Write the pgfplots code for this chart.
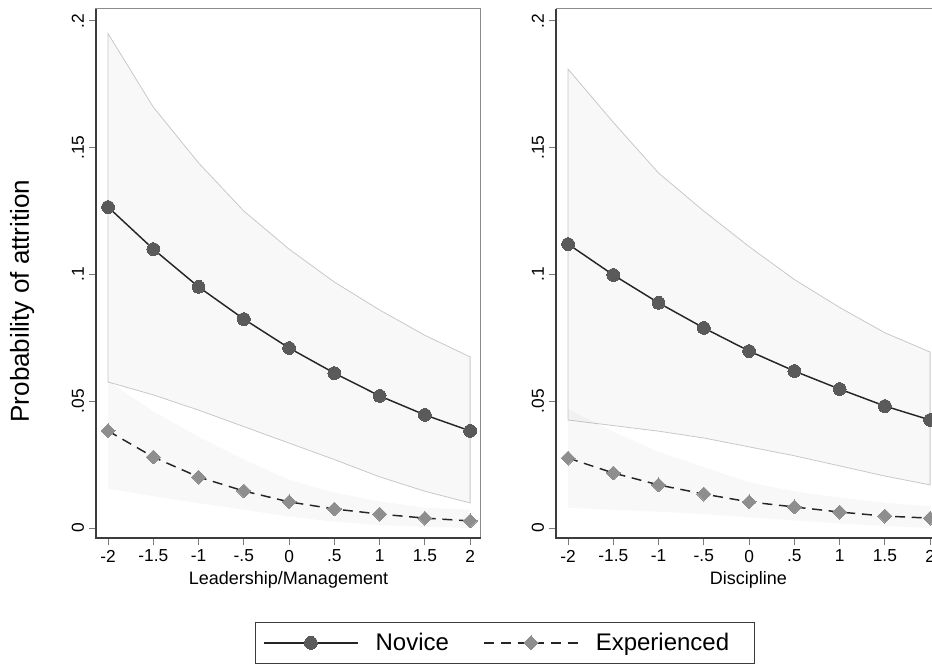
\documentclass[border=0pt]{standalone}
\usepackage{fontspec}
\setmainfont{Liberation Sans}
\usepackage{pgfplots}
\pgfplotsset{compat=1.18}

\definecolor{novmark}{HTML}{5A5A5A}
\definecolor{expmark}{HTML}{8E8E8E}
\definecolor{bandedge}{HTML}{C8C8C8}
\definecolor{framedark}{HTML}{3C3C3C}
\definecolor{framelight}{HTML}{8C8C8C}
\definecolor{tickgray}{HTML}{7A7A7A}
\definecolor{linedark}{HTML}{262626}

\pgfplotsset{
  panel/.style={
    scale only axis, width=288.75pt, height=396.75pt,
    xmin=-2.133, xmax=2.12, ymin=-0.00394, ymax=0.2047,
    axis line style={draw=framelight, line width=0.75pt},
    xtick={-2,-1.5,-1,-0.5,0,0.5,1,1.5,2},
    xticklabels={-2,-1.5,-1,-.5,0,.5,1,1.5,2},
    ytick={0,0.05,0.1,0.15,0.2}, yticklabels={0,.05,.1,.15,.2},
    xtick pos=bottom, ytick pos=left, tick align=outside,
    major tick length=5.5pt,
    every tick/.style={draw=tickgray, line width=0.75pt},
    ticklabel style={font=\fontsize{13}{15}\selectfont, text=black},
    yticklabel style={rotate=90, anchor=south},
    xticklabel style={anchor=north},
    xlabel style={font=\fontsize{13.5}{15}\selectfont, at={(axis description cs:0.5,-0.0794)}, anchor=center},
    ylabel style={font=\fontsize{19.5}{22}\selectfont},
    clip=false,
  },
  novband/.style={draw=bandedge, line width=0.6pt, fill=black, fill opacity=0.028, forget plot},
  expband/.style={draw=none, fill=black, fill opacity=0.028, forget plot},
  novline/.style={linedark, line width=1.1pt, mark=*, mark size=4.8pt, mark options={solid, fill=novmark, draw=novmark, line width=0pt}},
  expline/.style={linedark, line width=1.1pt, dash pattern=on 7.5pt off 5pt, mark=square*, mark size=3.7pt, mark options={solid, rotate=45, fill=expmark, draw=expmark, line width=0pt}},
}

\begin{document}
\begin{tikzpicture}
\begin{axis}[panel, at={(72pt,94.5pt)}, anchor=south west,
  xlabel={Leadership/Management},
  ylabel={Probability of attrition},
  ylabel style={at={(axis description cs:-0.192,0.448)}, anchor=center},
  legend style={at={(axis description cs:0.413,-0.1588)}, anchor=north west,
    draw=framedark, line width=0.75pt, font=\fontsize{18}{21}\selectfont,
    /tikz/every odd column/.append style={column sep=11pt},
    /tikz/every even column/.append style={column sep=24pt},
    inner xsep=6pt, inner ysep=6pt},
  legend columns=2, legend cell align=left,
  legend image code/.code={\draw[mark repeat=2,mark phase=2,#1] plot coordinates {(0pt,0pt) (35pt,0pt) (70pt,0pt)};},
]
% Novice CI band
\addplot[novband] coordinates {(-2,0.195) (-1.5,0.166) (-1,0.144) (-0.5,0.125) (0,0.110) (0.5,0.097) (1,0.086) (1.5,0.076) (2,0.0675)
  (2,0.0099) (1.5,0.0145) (1,0.0202) (0.5,0.027) (0,0.0335) (-0.5,0.040) (-1,0.0465) (-1.5,0.0525) (-2,0.0576)} -- cycle;
% Experienced CI band
\addplot[expband] coordinates {(-2,0.058) (-1.5,0.046) (-1,0.036) (-0.5,0.027) (0,0.019) (0.5,0.014) (1,0.0105) (1.5,0.008) (2,0.0072)
  (2,0.0) (1.5,0.0005) (1,0.0012) (0.5,0.0025) (0,0.0045) (-0.5,0.0072) (-1,0.0098) (-1.5,0.0125) (-2,0.0155)} -- cycle;
\addplot[novline] coordinates {(-2,0.1266) (-1.5,0.110) (-1,0.0951) (-0.5,0.0824) (0,0.071) (0.5,0.0611) (1,0.0521) (1.5,0.0446) (2,0.0383)};
\addlegendentry{Novice}
\addplot[expline] coordinates {(-2,0.0383) (-1.5,0.028) (-1,0.0201) (-0.5,0.0146) (0,0.0103) (0.5,0.0075) (1,0.0055) (1.5,0.0039) (2,0.0028)};
\addlegendentry{Experienced\kern11pt\null}
\draw[framedark, line width=1.5pt] (rel axis cs:0,1) -- (rel axis cs:0,0) -- (rel axis cs:1,0);
\end{axis}

\begin{axis}[panel, at={(417pt,94.5pt)}, anchor=south west,
  xlabel={Discipline},
]
\addplot[novband] coordinates {(-2,0.181) (-1.5,0.160) (-1,0.140) (-0.5,0.125) (0,0.111) (0.5,0.098) (1,0.087) (1.5,0.077) (2,0.0694)
  (2,0.017) (1.5,0.0205) (1,0.0245) (0.5,0.0285) (0,0.032) (-0.5,0.0355) (-1,0.0382) (-1.5,0.0404) (-2,0.0426)} -- cycle;
\addplot[expband] coordinates {(-2,0.047) (-1.5,0.038) (-1,0.030) (-0.5,0.024) (0,0.018) (0.5,0.0145) (1,0.012) (1.5,0.010) (2,0.0085)
  (2,0.0) (1.5,0.0008) (1,0.0018) (0.5,0.003) (0,0.0042) (-0.5,0.0055) (-1,0.0064) (-1.5,0.0072) (-2,0.0080)} -- cycle;
\addplot[novline] coordinates {(-2,0.112) (-1.5,0.0998) (-1,0.0888) (-0.5,0.0789) (0,0.0698) (0.5,0.0619) (1,0.0548) (1.5,0.0481) (2,0.0426)};
\addplot[expline] coordinates {(-2,0.0276) (-1.5,0.0217) (-1,0.017) (-0.5,0.0134) (0,0.0103) (0.5,0.0083) (1,0.0063) (1.5,0.0047) (2,0.0039)};
\draw[framedark, line width=1.5pt] (rel axis cs:0,1) -- (rel axis cs:0,0) -- (rel axis cs:1,0);
\end{axis}
\pgfresetboundingbox
\useasboundingbox (0pt,0pt) rectangle (699pt,498pt);
\end{tikzpicture}
\end{document}
